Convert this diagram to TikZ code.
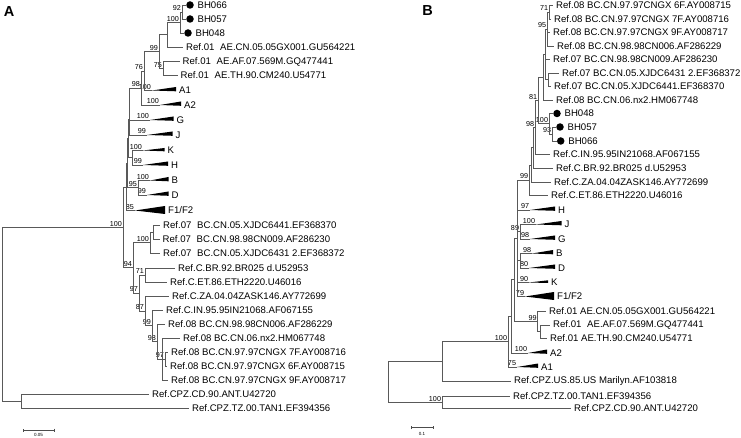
\documentclass[tikz,border=0pt]{standalone}
\usepackage{fontspec}
\setmainfont{Liberation Sans}
\usetikzlibrary{arrows.meta,positioning}
\newcommand{\leaffont}{\fontsize{9.6bp}{11bp}\selectfont}
\newcommand{\bootfont}{\fontsize{7.2bp}{8bp}\selectfont}
\newcommand{\panelfont}{\fontsize{14.5bp}{16bp}\selectfont\bfseries}
\newcommand{\barfont}{\fontsize{4.5bp}{5bp}\selectfont}
\newcommand{\gap}{\hspace{0.6em}}

\begin{document}
\begin{tikzpicture}[
  x=1bp, y=-1bp,
  branch/.style={draw=black!65, line width=0.7bp},
  leaf/.style={anchor=west, inner xsep=3bp, inner ysep=0pt, font=\leaffont},
  boot/.style={font=\bootfont, inner sep=0.8bp},
  isolate/.style={circle, fill=black, inner sep=0pt, minimum size=7.5bp},
  clade/.style={fill=black},
  panel/.style={font=\panelfont, inner sep=0pt},
  scalebar/.style={draw=black!70, line width=0.5bp, {Bar[width=3bp]}-{Bar[width=3bp]}}
]
\useasboundingbox (0,0) rectangle (741,438);

% ---------------- panel A ----------------
\node[panel] (pA) at (9,12) {A};

\node[isolate] (aD066) at (190,5) {};
\node[isolate] (aD057) at (190,19) {};
\node[isolate] (aD048) at (188,33) {};
\node[leaf, right=0.5bp of aD066] (aT066) {BH066};
\node[leaf, right=0.5bp of aD057] (aT057) {BH057};
\node[leaf, right=0.5bp of aD048] (aT048) {BH048};

\node[leaf] (aCN) at (183,47) {Ref.01\gap AE.CN.05.05GX001.GU564221};
\node[leaf] (aAF) at (179.5,61.5) {Ref.01\gap AE.AF.07.569M.GQ477441};
\node[leaf] (aTH) at (177.5,75.5) {Ref.01\gap AE.TH.90.CM240.U54771};
\node[leaf] (aA1) at (176,90.5) {A1};
\node[leaf] (aA2) at (181,105) {A2};
\node[leaf] (aG) at (173.5,120) {G};
\node[leaf] (aJ) at (172.5,135) {J};
\node[leaf] (aK) at (164.5,150.5) {K};
\node[leaf] (aH) at (168,165) {H};
\node[leaf] (aB) at (168.5,180.5) {B};
\node[leaf] (aD) at (168.5,195) {D};
\node[leaf] (aF) at (165,210.5) {F1/F2};
\node[leaf] (a6441) at (160,225) {Ref.07\gap BC.CN.05.XJDC6441.EF368370};
\node[leaf] (a009) at (159.5,239) {Ref.07\gap BC.CN.98.98CN009.AF286230};
\node[leaf] (a6431) at (160,253.5) {Ref.07\gap BC.CN.05.XJDC6431 2.EF368372};
\node[leaf] (aCBR) at (175,268) {Ref.C.BR.92.BR025 d.U52953};
\node[leaf] (aCET) at (167,282) {Ref.C.ET.86.ETH2220.U46016};
\node[leaf] (aCZA) at (169,296) {Ref.C.ZA.04.04ZASK146.AY772699};
\node[leaf] (aCIN) at (163,310) {Ref.C.IN.95.95IN21068.AF067155};
\node[leaf] (a006) at (165,324) {Ref.08 BC.CN.98.98CN006.AF286229};
\node[leaf] (anx2) at (180,338) {Ref.08 BC.CN.06.nx2.HM067748};
\node[leaf] (a7F) at (168,352) {Ref.08 BC.CN.97.97CNGX 7F.AY008716};
\node[leaf] (a6F) at (167,366) {Ref.08 BC.CN.97.97CNGX 6F.AY008715};
\node[leaf] (a9F) at (168,380) {Ref.08 BC.CN.97.97CNGX 9F.AY008717};
\node[leaf] (aCD) at (149,394.5) {Ref.CPZ.CD.90.ANT.U42720};
\node[leaf] (aTZ) at (189,408.5) {Ref.CPZ.TZ.00.TAN1.EF394356};

% internal nodes, bootstrap values
\coordinate[label={[boot]above left:92}] (aN92) at (182,12);
\coordinate[label={[boot]above left:100}] (aNBH) at (180,22.5);
\coordinate (aNX) at (167,34.75);
\coordinate[label={[boot]above left:75}] (aN75) at (163,68.5);
\coordinate[label={[boot]above left:99}] (aN99) at (159,51.6);
\coordinate[label={[boot]above left:76}] (aN76) at (144,71);
\coordinate[label={[boot]above left:98}] (aN98) at (141,88);
\coordinate[label={[boot]above left:100}] (aA1c) at (152,90.5);
\coordinate[label={[boot]above left:100}] (aA2c) at (160,105);
\coordinate[label={[boot]above left:100}] (aGc) at (150,120);
\coordinate[label={[boot]above left:99}] (aJc) at (147,135);
\coordinate (aNKH) at (132,157.75);
\coordinate[label={[boot]above left:100}] (aKc) at (143,150.5);
\coordinate[label={[boot]above left:99}] (aHc) at (143,165);
\coordinate[label={[boot]above left:95}] (aNBD) at (138,187.75);
\coordinate[label={[boot]above left:100}] (aBc) at (150,180.5);
\coordinate[label={[boot]above left:99}] (aDc) at (147,195);
\coordinate[label={[boot]above left:85}] (aFc) at (135,210.5);
\coordinate (aU5) at (129.5,104);
\coordinate (aU4) at (129,119.5);
\coordinate (aU3) at (128.5,138.6);
\coordinate (aU2) at (127.5,163.2);
\coordinate (aU1) at (126,186.9);
\coordinate (aN07a) at (153,232);
\coordinate[label={[boot]above left:100}] (aN07) at (150,242.75);
\coordinate[label={[boot]above left:71}] (aN71) at (145,275);
\coordinate[label={[boot]above left:97}] (aN97) at (165,359);
\coordinate (aNR) at (162,359);
\coordinate[label={[boot]above left:98}] (aN08) at (157,341.5);
\coordinate[label={[boot]above left:99}] (aNIN) at (152,325.75);
\coordinate[label={[boot]above left:87}] (aN87) at (145,310.9);
\coordinate[label={[boot]above left:97}] (aNC) at (139,292.9);
\coordinate[label={[boot]above left:94}] (aNL) at (133,267.8);
\coordinate[label={[boot]above left:100}] (aIn) at (123,227.4);
\coordinate (aOut) at (21,401.5);
\coordinate (aRoot) at (2,314.5);

\draw[branch] (aN92) |- (aD066.west) (aN92) |- (aD057.west);
\draw[branch] (aNBH) |- (aN92) (aNBH) |- (aD048.west);
\draw[branch] (aNX) |- (aNBH) (aNX) |- (aCN.west);
\draw[branch] (aN75) |- (aAF.west) (aN75) |- (aTH.west);
\draw[branch] (aN99) |- (aNX) (aN99) |- (aN75);
\draw[branch] (aN76) |- (aN99) (aN76) |- (aA1c);
\draw[branch] (aN98) |- (aN76) (aN98) |- (aA2c);
\draw[branch] (aU5) |- (aN98) (aU5) |- (aGc);
\draw[branch] (aU4) |- (aU5) (aU4) |- (aJc);
\draw[branch] (aNKH) |- (aKc) (aNKH) |- (aHc);
\draw[branch] (aU3) |- (aU4) (aU3) |- (aNKH);
\draw[branch] (aNBD) |- (aBc) (aNBD) |- (aDc);
\draw[branch] (aU2) |- (aU3) (aU2) |- (aNBD);
\draw[branch] (aU1) |- (aU2) (aU1) |- (aFc);
\draw[branch] (aN07a) |- (a6441.west) (aN07a) |- (a009.west);
\draw[branch] (aN07) |- (aN07a) (aN07) |- (a6431.west);
\draw[branch] (aN71) |- (aCBR.west) (aN71) |- (aCET.west);
\draw[branch] (aN97) |- (a7F.west) (aN97) |- (a6F.west);
\draw[branch] (aNR) |- (anx2.west) (aNR) -- (aN97) (aNR) |- (a9F.west);
\draw[branch] (aN08) |- (a006.west) (aN08) |- (aNR);
\draw[branch] (aNIN) |- (aCIN.west) (aNIN) |- (aN08);
\draw[branch] (aN87) |- (aCZA.west) (aN87) |- (aNIN);
\draw[branch] (aNC) |- (aN71) (aNC) |- (aN87);
\draw[branch] (aNL) |- (aN07) (aNL) |- (aNC);
\draw[branch] (aIn) |- (aU1) (aIn) |- (aNL);
\draw[branch] (aOut) |- (aCD.west) (aOut) |- (aTZ.west);
\draw[branch] (aRoot) |- (aIn) (aRoot) |- (aOut);

% collapsed subtypes
\fill[clade] (aA1c) -- ([yshift=3.5bp]aA1.west) -- ([yshift=-0.8bp]aA1.west) -- cycle;
\fill[clade] (aA2c) -- ([yshift=3.5bp]aA2.west) -- ([yshift=-0.8bp]aA2.west) -- cycle;
\fill[clade] (aGc) -- ([yshift=3.5bp]aG.west) -- ([yshift=-0.8bp]aG.west) -- cycle;
\fill[clade] (aJc) -- ([yshift=3.5bp]aJ.west) -- ([yshift=-0.8bp]aJ.west) -- cycle;
\fill[clade] (aKc) -- ([yshift=2.5bp]aK.west) -- ([yshift=-0.8bp]aK.west) -- cycle;
\fill[clade] (aHc) -- ([yshift=3.5bp]aH.west) -- ([yshift=-0.8bp]aH.west) -- cycle;
\fill[clade] (aBc) -- ([yshift=3.5bp]aB.west) -- ([yshift=-0.8bp]aB.west) -- cycle;
\fill[clade] (aDc) -- ([yshift=3.5bp]aD.west) -- ([yshift=-0.8bp]aD.west) -- cycle;
\fill[clade] (aFc) -- ([yshift=4.5bp]aF.west) -- ([yshift=-3.5bp]aF.west) -- cycle;

\coordinate (aS1) at (23,430);
\coordinate (aS2) at (54,430);
\draw[scalebar] (aS1) -- (aS2) node[midway, below=3bp, font=\barfont, inner sep=0.5bp] (aSl) {0.05};

% ---------------- panel B ----------------
\node[panel] (pB) at (427.5,11) {B};

\node[leaf] (b6F) at (553,5) {Ref.08 BC.CN.97.97CNGX 6F.AY008715};
\node[leaf] (b7F) at (551,19) {Ref.08 BC.CN.97.97CNGX 7F.AY008716};
\node[leaf] (b9F) at (550,32) {Ref.08 BC.CN.97.97CNGX 9F.AY008717};
\node[leaf] (b006) at (554,46) {Ref.08 BC.CN.98.98CN006.AF286229};
\node[leaf] (b009) at (550,59.5) {Ref.07 BC.CN.98.98CN009.AF286230};
\node[leaf] (b6431) at (559,73) {Ref.07 BC.CN.05.XJDC6431 2.EF368372};
\node[leaf] (b6441) at (551,86.5) {Ref.07 BC.CN.05.XJDC6441.EF368370};
\node[leaf] (bnx2) at (553,100) {Ref.08 BC.CN.06.nx2.HM067748};
\node[isolate] (bD048) at (557,113.5) {};
\node[isolate] (bD057) at (560,127) {};
\node[isolate] (bD066) at (560.7,141) {};
\node[leaf, right=0.5bp of bD048] (bT048) {BH048};
\node[leaf, right=0.5bp of bD057] (bT057) {BH057};
\node[leaf, right=0.5bp of bD066] (bT066) {BH066};
\node[leaf] (bCIN) at (550,154.5) {Ref.C.IN.95.95IN21068.AF067155};
\node[leaf] (bCBR) at (553,168) {Ref.C.BR.92.BR025 d.U52953};
\node[leaf] (bCZA) at (551,182) {Ref.C.ZA.04.04ZASK146.AY772699};
\node[leaf] (bCET) at (548,195) {Ref.C.ET.86.ETH2220.U46016};
\node[leaf] (bH) at (555,210) {H};
\node[leaf] (bJ) at (561.5,224.5) {J};
\node[leaf] (bG) at (555,239) {G};
\node[leaf] (bB) at (553,253.5) {B};
\node[leaf] (bD) at (555,268) {D};
\node[leaf] (bK) at (548,282.5) {K};
\node[leaf] (bF) at (554,296.5) {F1/F2};
\node[leaf] (bCN) at (546,311) {Ref.01 AE.CN.05.05GX001.GU564221};
\node[leaf] (bAF) at (550,325) {Ref.01\gap AE.AF.07.569M.GQ477441};
\node[leaf] (bTH) at (547,338.5) {Ref.01 AE.TH.90.CM240.U54771};
\node[leaf] (bA2) at (547,353) {A2};
\node[leaf] (bA1) at (538,367) {A1};
\node[leaf] (bUS) at (511,381) {Ref.CPZ.US.85.US Marilyn.AF103818};
\node[leaf] (bTZ) at (510,396) {Ref.CPZ.TZ.00.TAN1.EF394356};
\node[leaf] (bCD) at (571,408.5) {Ref.CPZ.CD.90.ANT.U42720};

\coordinate[label={[boot]above left:71}] (bN71) at (549,12);
\coordinate[label={[boot]above left:95}] (bN95) at (547,29);
\coordinate (bN07) at (548,79.75);
\coordinate (bN08) at (545,54.4);
\coordinate (bNnx) at (543,77.2);
\coordinate[label={[boot]above left:93}] (bN93) at (552,134);
\coordinate[label={[boot]above left:100}] (bNBH) at (549,123.75);
\coordinate[label={[boot]above left:81}] (bN81) at (538,100.5);
\coordinate[label={[boot]above left:98}] (bN98) at (535,127.5);
\coordinate (bNC1) at (533,147.75);
\coordinate (bNC2) at (531,164.9);
\coordinate[label={[boot]above left:99}] (bN99) at (529,180);
\coordinate[label={[boot]above left:97}] (bHc) at (530,210);
\coordinate[label={[boot]above left:100}] (bJc) at (536,224.5);
\coordinate[label={[boot]above left:98}] (bGc) at (530,239);
\coordinate[label={[boot]above left:89}] (bNJG) at (520,231.75);
\coordinate[label={[boot]above left:98}] (bBc) at (532,253.5);
\coordinate[label={[boot]above left:80}] (bDc) at (529,268);
\coordinate (bNBD) at (520,260.75);
\coordinate[label={[boot]above left:90}] (bKc) at (529,282.5);
\coordinate[label={[boot]above left:79}] (bFc) at (525,296.5);
\coordinate (bS) at (517,238.25);
\coordinate (bN01a) at (540,331.75);
\coordinate[label={[boot]above left:99}] (bN01) at (537.5,321.4);
\coordinate (bW) at (514,279.8);
\coordinate[label={[boot]above left:100}] (bA2c) at (528,353);
\coordinate (bU) at (511,316.4);
\coordinate[label={[boot]above left:75}] (bA1c) at (517,367);
\coordinate[label={[boot]above left:100}] (bIn) at (508,341.7);
\coordinate (bP) at (442,361.35);
\coordinate[label={[boot]above left:100}] (bOut) at (442,402.25);
\coordinate (bRoot) at (388,381.8);

\draw[branch] (bN71) |- (b6F.west) (bN71) |- (b7F.west);
\draw[branch] (bN95) |- (bN71) (bN95) |- (b9F.west) (bN95) |- (b006.west);
\draw[branch] (bN07) |- (b6431.west) (bN07) |- (b6441.west);
\draw[branch] (bN08) |- (bN95) (bN08) |- (b009.west) (bN08) |- (bN07);
\draw[branch] (bNnx) |- (bN08) (bNnx) |- (bnx2.west);
\draw[branch] (bN93) |- (bD057.west) (bN93) |- (bD066.west);
\draw[branch] (bNBH) |- (bD048.west) (bNBH) |- (bN93);
\draw[branch] (bN81) |- (bNnx) (bN81) |- (bNBH);
\draw[branch] (bN98) |- (bN81) (bN98) |- (bCIN.west);
\draw[branch] (bNC1) |- (bN98) (bNC1) |- (bCBR.west);
\draw[branch] (bNC2) |- (bNC1) (bNC2) |- (bCZA.west);
\draw[branch] (bN99) |- (bNC2) (bN99) |- (bCET.west);
\draw[branch] (bNJG) |- (bJc) (bNJG) |- (bGc);
\draw[branch] (bNBD) |- (bBc) (bNBD) |- (bDc);
\draw[branch] (bS) |- (bN99) (bS) |- (bHc) (bS) |- (bNJG) (bS) |- (bNBD) (bS) |- (bKc) (bS) |- (bFc);
\draw[branch] (bN01a) |- (bAF.west) (bN01a) |- (bTH.west);
\draw[branch] (bN01) |- (bCN.west) (bN01) |- (bN01a);
\draw[branch] (bW) |- (bS) (bW) |- (bN01);
\draw[branch] (bU) |- (bW) (bU) |- (bA2c);
\draw[branch] (bIn) |- (bU) (bIn) |- (bA1c);
\draw[branch] (bP) |- (bIn) (bP) |- (bUS.west);
\draw[branch] (bOut) |- (bTZ.west) (bOut) |- (bCD.west);
\draw[branch] (bRoot) |- (bP) (bRoot) |- (bOut);

\fill[clade] (bHc) -- ([yshift=3.5bp]bH.west) -- ([yshift=-0.8bp]bH.west) -- cycle;
\fill[clade] (bJc) -- ([yshift=3.5bp]bJ.west) -- ([yshift=-0.8bp]bJ.west) -- cycle;
\fill[clade] (bGc) -- ([yshift=3.5bp]bG.west) -- ([yshift=-0.8bp]bG.west) -- cycle;
\fill[clade] (bBc) -- ([yshift=3.5bp]bB.west) -- ([yshift=-0.8bp]bB.west) -- cycle;
\fill[clade] (bDc) -- ([yshift=3.5bp]bD.west) -- ([yshift=-0.8bp]bD.west) -- cycle;
\fill[clade] (bKc) -- ([yshift=2.2bp]bK.west) -- ([yshift=-0.5bp]bK.west) -- cycle;
\fill[clade] (bFc) -- ([yshift=4.5bp]bF.west) -- ([yshift=-3.5bp]bF.west) -- cycle;
\fill[clade] (bA2c) -- ([yshift=3.5bp]bA2.west) -- ([yshift=-0.8bp]bA2.west) -- cycle;
\fill[clade] (bA1c) -- ([yshift=3.5bp]bA1.west) -- ([yshift=-0.8bp]bA1.west) -- cycle;

\coordinate (bS1) at (411,427.5);
\coordinate (bS2) at (433,427.5);
\draw[scalebar] (bS1) -- (bS2) node[midway, below=4bp, font=\barfont, inner sep=0.5bp] (bSl) {0.1};
\end{tikzpicture}
\end{document}
